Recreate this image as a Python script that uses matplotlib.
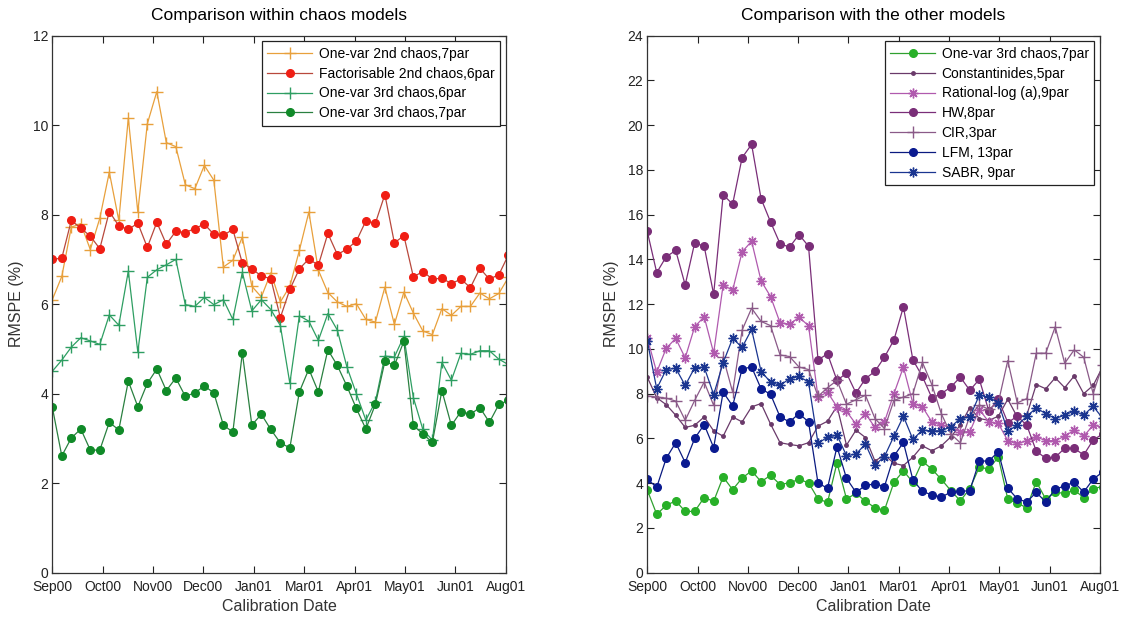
import matplotlib.pyplot as plt
import numpy as np
import pandas as pd

plt.rcParams['font.family'] = ['Liberation Sans', 'DejaVu Sans']

# Weekly calibration dates (last one falls just past the axis end)
dates = pd.date_range('2000-09-01', periods=49, freq='7D')
tick_labels = ['Sep00', 'Oct00', 'Nov00', 'Dec00', 'Jan01',
               'Mar01', 'Apr01', 'May01', 'Jun01', 'Aug01']

# RMSPE (%) series
onevar2_7 = [6.10, 6.62, 7.72, 7.80, 7.22, 7.92, 8.95, 7.87, 10.16, 8.06, 10.03, 10.75, 9.61,
             9.52, 8.67, 8.58, 9.10, 8.77, 6.83, 6.98, 7.50, 6.40, 6.16, 6.70, 6.05, 6.40,
             7.20, 8.06, 6.76, 6.26, 6.05, 5.95, 6.01, 5.66, 5.60, 6.38, 5.55, 6.27, 5.80,
             5.40, 5.32, 5.90, 5.75, 5.95, 5.95, 6.25, 6.12, 6.24, 6.60]
fact2_6 = [7.00, 7.03, 7.87, 7.70, 7.52, 7.24, 8.07, 7.75, 7.67, 7.81, 7.27, 7.83, 7.34,
           7.63, 7.60, 7.69, 7.79, 7.56, 7.54, 7.67, 6.92, 6.79, 6.63, 6.57, 5.70, 6.33,
           6.79, 7.01, 6.87, 7.58, 7.11, 7.23, 7.41, 7.86, 7.81, 8.45, 7.37, 7.53, 6.61,
           6.73, 6.56, 6.58, 6.46, 6.56, 6.37, 6.80, 6.56, 6.66, 7.10]
onevar3_6 = [4.50, 4.75, 5.04, 5.25, 5.18, 5.10, 5.76, 5.53, 6.74, 4.93, 6.60, 6.77, 6.88,
             7.00, 5.99, 5.95, 6.15, 5.99, 6.10, 5.66, 6.71, 5.85, 6.10, 5.88, 5.52, 4.23,
             5.74, 5.62, 5.19, 5.79, 5.42, 4.60, 4.00, 3.41, 3.82, 4.84, 4.82, 5.28, 3.91,
             3.20, 2.96, 4.70, 4.30, 4.90, 4.88, 4.96, 4.96, 4.77, 4.65]
onevar3_7 = [3.70, 2.61, 3.01, 3.21, 2.74, 2.74, 3.36, 3.19, 4.28, 3.71, 4.23, 4.55, 4.07,
             4.35, 3.94, 4.02, 4.17, 4.02, 3.30, 3.14, 4.91, 3.30, 3.54, 3.20, 2.90, 2.79,
             4.04, 4.55, 4.04, 4.98, 4.63, 4.17, 3.67, 3.21, 3.76, 4.72, 4.63, 5.17, 3.29,
             3.10, 2.91, 4.07, 3.29, 3.60, 3.54, 3.69, 3.36, 3.76, 3.85]

const_5 = [8.74, 7.82, 7.51, 7.04, 6.49, 6.59, 6.96, 6.34, 6.10, 6.96, 6.74, 7.41, 7.56,
           6.64, 5.81, 5.73, 5.67, 5.81, 6.55, 6.77, 7.44, 5.70, 6.37, 6.04, 4.99, 5.26,
           4.89, 4.79, 5.16, 5.67, 5.45, 5.67, 6.07, 6.60, 7.38, 6.89, 6.81, 6.99, 7.75,
           6.96, 7.04, 8.41, 8.22, 8.71, 8.27, 8.79, 8.00, 8.37, 9.20]
ratlog_9 = [10.49, 8.96, 10.03, 10.47, 9.60, 10.99, 11.44, 9.82, 12.86, 12.62, 14.34, 14.81,
            13.04, 12.34, 11.17, 11.11, 11.41, 11.04, 7.85, 8.07, 7.41, 7.21, 6.64, 7.11,
            6.49, 6.74, 8.00, 9.19, 7.56, 7.41, 6.74, 6.59, 6.50, 6.30, 6.30, 7.29, 6.74,
            6.67, 5.90, 5.75, 5.90, 6.07, 5.90, 5.90, 6.10, 6.37, 6.10, 6.59, 6.50]
hw_8 = [15.26, 13.41, 14.12, 14.40, 12.86, 14.74, 14.59, 12.44, 16.89, 16.47, 18.55, 19.14,
        16.71, 15.67, 14.70, 14.55, 15.11, 14.59, 9.51, 9.78, 8.59, 8.92, 8.03, 8.67, 9.00,
        9.63, 10.40, 11.88, 9.51, 8.77, 7.81, 8.00, 8.30, 8.74, 8.15, 8.64, 7.23, 7.75,
        6.71, 6.99, 6.59, 5.44, 5.11, 5.16, 5.56, 5.56, 5.26, 5.93, 6.20]
cir_3 = [7.90, 7.85, 7.80, 7.67, 6.81, 7.70, 8.52, 7.48, 9.63, 8.07, 10.84, 11.82, 11.23,
         11.04, 9.73, 9.66, 9.19, 9.08, 7.88, 8.27, 8.59, 7.53, 7.73, 7.93, 6.89, 6.44,
         7.70, 7.85, 8.00, 9.40, 8.40, 7.10, 6.20, 5.80, 7.00, 7.50, 7.30, 7.60, 9.48,
         7.59, 7.78, 9.81, 9.81, 10.99, 9.36, 9.96, 9.63, 8.00, 9.30]
lfm_13 = [4.18, 3.82, 5.11, 5.81, 4.92, 6.00, 6.62, 5.59, 8.07, 7.45, 9.11, 9.19, 8.22,
          7.97, 6.96, 6.74, 7.11, 6.74, 4.00, 3.78, 5.63, 4.22, 3.59, 3.90, 3.97, 3.85,
          5.21, 5.82, 4.15, 3.63, 3.48, 3.38, 3.60, 3.63, 3.67, 4.99, 4.99, 5.41, 3.78,
          3.30, 3.16, 3.59, 3.16, 3.73, 3.88, 4.04, 3.60, 4.18, 4.50]
sabr_9 = [10.37, 8.22, 9.08, 9.14, 8.37, 9.16, 9.19, 7.96, 9.38, 10.47, 10.07, 10.87, 8.99,
          8.52, 8.37, 8.67, 8.77, 8.52, 5.78, 6.06, 6.15, 5.23, 5.30, 5.75, 4.81, 5.19,
          6.10, 6.99, 5.96, 6.37, 6.34, 6.34, 6.52, 6.89, 6.96, 7.93, 7.85, 7.59, 6.33,
          6.59, 6.99, 7.36, 7.11, 6.89, 7.04, 7.23, 7.04, 7.44, 6.90]

x_start = pd.Timestamp('2000-09-01')
x_end = pd.Timestamp('2001-08-01')
ticks = pd.date_range(x_start, x_end, periods=10)

fig = plt.figure(figsize=(11.27, 6.18), dpi=100)
ax1 = fig.add_axes([0.0464, 0.0733, 0.4023, 0.869])
ax2 = fig.add_axes([0.5743, 0.0733, 0.4017, 0.869])

lw = 0.9
star = (8, 2, 0)  # asterisk marker
ax1.plot(dates, onevar2_7, marker='+', ls='-', color='#E8A03C', lw=lw, ms=8, mew=1.0,
         label='One-var 2nd chaos,7par')
ax1.plot(dates, fact2_6, marker='o', ls='-', color='#B8483C', mfc='#F01E14', mec='#F01E14',
         lw=lw, ms=5.5, label='Factorisable 2nd chaos,6par')
ax1.plot(dates, onevar3_6, marker='+', ls='-', color='#2E9E62', lw=lw, ms=8, mew=1.0,
         label='One-var 3rd chaos,6par')
ax1.plot(dates, onevar3_7, marker='o', ls='-', color='#2A8040', mfc='#108A28', mec='#108A28',
         lw=lw, ms=5.5, label='One-var 3rd chaos,7par')
ax1.set_ylim(0, 12)
ax1.set_yticks(np.arange(0, 13, 2))
ax1.set_title('Comparison within chaos models', fontsize=12.5, pad=11)

ax2.plot(dates, onevar3_7, marker='o', ls='-', color='#30A030', mfc='#28B028', mec='#28B028',
         lw=lw, ms=5.5, label='One-var 3rd chaos,7par')
ax2.plot(dates, const_5, marker='.', ls='-', color='#6A3A6A', lw=lw, ms=5,
         label='Constantinides,5par')
ax2.plot(dates, ratlog_9, marker=star, ls='-', color='#B05AAE', lw=lw, ms=7, mew=1.0,
         label='Rational-log (a),9par')
ax2.plot(dates, hw_8, marker='o', ls='-', color='#7A2E78', lw=lw, ms=5.5,
         label='HW,8par')
ax2.plot(dates, cir_3, marker='+', ls='-', color='#8A5A88', lw=lw, ms=8, mew=1.0,
         label='CIR,3par')
ax2.plot(dates, lfm_13, marker='o', ls='-', color='#0A1A80', mfc='#0A1A90', mec='#0A1A90',
         lw=lw, ms=5.5, label='LFM, 13par')
ax2.plot(dates, sabr_9, marker=star, ls='-', color='#1A3590', lw=lw, ms=7, mew=1.0,
         label='SABR, 9par')
ax2.set_ylim(0, 24)
ax2.set_yticks(np.arange(0, 25, 2))
ax2.set_title('Comparison with the other models', fontsize=12.5, pad=11)

for ax in (ax1, ax2):
    ax.set_xlim(x_start, x_end)
    ax.set_xticks(ticks)
    ax.set_xticklabels(tick_labels)
    ax.tick_params(direction='in', top=True, right=True, labelsize=10, length=5,
                   colors='#222222')
    ax.tick_params(axis='x', pad=5)
    ax.tick_params(axis='y', pad=3)
    ax.set_xlabel('Calibration Date', fontsize=11.5, color='#333333', labelpad=4)
    ax.set_ylabel('RMSPE (%)', fontsize=11.5, color='#333333', labelpad=6)
    for s in ax.spines.values():
        s.set_color('#333333')
        s.set_linewidth(0.9)
    leg = ax.legend(loc='upper right', fontsize=10, fancybox=False, framealpha=1,
                    edgecolor='#222222', borderaxespad=0.4, handlelength=3.2,
                    labelspacing=0.42, borderpad=0.4, handletextpad=0.5)
    leg.get_frame().set_linewidth(0.9)

fig.savefig('out.png', dpi=100)
